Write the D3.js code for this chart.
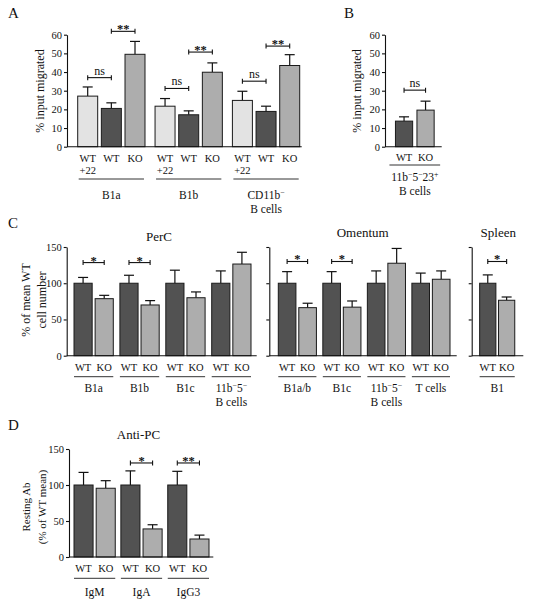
<!DOCTYPE html>
<html>
<head>
<meta charset="utf-8">
<script src="https://cdn.jsdelivr.net/npm/d3@7"></script>
<style>
  html, body { margin: 0; padding: 0; background: #fff; }
  svg { display: block; }
  text { font-family: "Liberation Serif", "Times New Roman", serif; fill: #111; }
</style>
</head>
<body>
<script>
// ---------------- DATA ----------------
// Panel A: % input migrated
const aGroups = ["B1a", "B1b", "CD11b^-|B cells"];
const aSeries = ["WT|+22", "WT", "KO"];
const aValues = [[27.1, 20.5, 49.5], [21.7, 17.1, 39.9], [24.8, 18.9, 43.5]];
const aErrors = [[4.9, 3.0, 6.9], [4.1, 2.1, 5.0], [4.9, 2.8, 5.8]];
const aBrackets = [[0, 0, 1, 37.0, "ns"], [0, 1, 2, 61.8, "**"],
                   [1, 0, 1, 31.2, "ns"], [1, 1, 2, 50.7, "**"],
                   [2, 0, 1, 35.1, "ns"], [2, 1, 2, 53.9, "**"]];
const abTicks = [0, 10, 20, 30, 40, 50, 60];

// Panel B
const bGroups = ["11b^-5^-23^+|B cells"];
const bSeries = ["WT", "KO"];
const bValues = [[13.7, 19.6]];
const bErrors = [[2.3, 4.8]];
const bBrackets = [[0, 0, 1, 30.3, "ns"]];

// Panel C
const cSeries = ["WT", "KO"];
const perCGroups = ["B1a", "B1b", "B1c", "11b^-5^-|B cells"];
const perCValues = [[100, 78.7], [100, 70], [100, 80], [100, 126.5]];
const perCErrors = [[8, 4.6], [11, 6], [18, 8], [17, 16.2]];
const perCBrackets = [[0, 0, 1, 128.5, "*"], [1, 0, 1, 128.5, "*"]];

const omGroups = ["B1a/b", "B1c", "11b^-5^-|B cells", "T cells"];
const omValues = [[100, 66.3], [100, 67], [100, 127.6], [100, 105.5]];
const omErrors = [[16, 6.1], [16, 8.5], [17, 20.4], [14, 11.5]];
const omBrackets = [[0, 0, 1, 130, "*"], [1, 0, 1, 130, "*"]];

const spGroups = ["B1"];
const spValues = [[100, 76.5]];
const spErrors = [[11.5, 4.5]];
const spBrackets = [[0, 0, 1, 130, "*"]];
const cdTicks = [0, 50, 100, 150];

// Panel D: Anti-PC
const dGroups = ["IgM", "IgA", "IgG3"];
const dValues = [[100, 95.5], [100, 39], [100, 25]];
const dErrors = [[17.5, 10.5], [19.6, 5.8], [19, 5.4]];
const dBrackets = [[1, 0, 1, 130.6, "*"], [2, 0, 1, 130.6, "**"]];

// ---------------- STYLE ----------------
const LIGHT = "#e3e3e3", DARK = "#525252", MED = "#adadad";
const FS_TICK = 10.5, FS_CAT = 10.5, FS_GROUP = 11.5;

const svg = d3.select("body").append("svg")
  .attr("width", 536).attr("height", 601)
  .style("background", "#fff");

function richText(textSel, str, fs) {
  const parts = str.split(/(\^.)/);
  let shifted = false;
  parts.forEach(pt => {
    if (!pt) return;
    if (pt.length === 2 && pt[0] === "^") {
      const ch = pt[1] === "-" ? "\u2212" : pt[1];
      textSel.append("tspan").attr("dy", shifted ? 0 : -fs * 0.38)
        .attr("font-size", fs * 0.68).text(ch);
      shifted = true;
    } else {
      const t = textSel.append("tspan").text(pt);
      if (shifted) { t.attr("dy", fs * 0.38); shifted = false; }
    }
  });
}

function drawPanel(p) {
  const g = svg.append("g");
  const y = d3.scaleLinear().domain([0, p.yMax]).range([p.y0, p.yTop]);
  const x0 = d3.scaleBand().domain(d3.range(p.groups.length))
    .range(p.barRange).paddingInner(p.outerPad).paddingOuter(0);
  const x1 = d3.scaleBand().domain(d3.range(p.series.length))
    .range([0, x0.bandwidth()]).paddingInner(p.innerPad).paddingOuter(0);

  // y axis
  const ax = d3.axisLeft(y).tickValues(p.ticks).tickSize(3).tickSizeOuter(0)
    .tickPadding(2).tickFormat(p.tickLabels ? d3.format("d") : () => "");
  const axg = g.append("g").attr("transform", `translate(${p.axisX},0)`).call(ax);
  axg.selectAll("path, line").attr("stroke", "#111").attr("stroke-width", 1.1);
  axg.selectAll("text").attr("font-size", FS_TICK)
    .attr("font-family", "Liberation Serif, serif").attr("fill", "#111");

  // bars
  p.values.forEach((vals, gi) => {
    vals.forEach((v, si) => {
      const bx = x0(gi) + x1(si);
      const bw = x1.bandwidth();
      const cx = bx + bw / 2;
      const e = p.errors[gi][si];
      // error bar (upper only)
      g.append("line").attr("x1", cx).attr("x2", cx)
        .attr("y1", y(v)).attr("y2", y(v + e))
        .attr("stroke", "#111").attr("stroke-width", 1.2);
      g.append("line").attr("x1", cx - 5).attr("x2", cx + 5)
        .attr("y1", y(v + e)).attr("y2", y(v + e))
        .attr("stroke", "#111").attr("stroke-width", 1.2);
      g.append("rect").attr("x", bx).attr("y", y(v))
        .attr("width", bw).attr("height", y(0) - y(v))
        .attr("fill", p.colors[si]).attr("stroke", "#1a1a1a").attr("stroke-width", 1);
      // series labels
      const lines = p.series[si].split("|");
      lines.forEach((ln, li) => {
        g.append("text").attr("x", cx).attr("y", p.catY + li * 12)
          .attr("text-anchor", "middle").attr("font-size", FS_CAT).text(ln);
      });
    });
    // group underline and label
    const gx = x0(gi), gw = x0.bandwidth();
    g.append("line").attr("x1", gx - p.ulPad).attr("x2", gx + gw + p.ulPad)
      .attr("y1", p.ulY).attr("y2", p.ulY).attr("stroke", "#333").attr("stroke-width", 1);
    p.groups[gi].split("|").forEach((ln, li) => {
      const t = g.append("text").attr("x", gx + gw / 2).attr("y", p.glY + li * 14)
        .attr("text-anchor", "middle").attr("font-size", FS_GROUP);
      richText(t, ln, FS_GROUP);
    });
  });

  // x axis line
  g.append("line").attr("x1", p.axisX).attr("x2", p.xEnd)
    .attr("y1", y(0)).attr("y2", y(0)).attr("stroke", "#111").attr("stroke-width", 1.1);

  // significance brackets
  p.brackets.forEach(([gi, sa, sb, v, txt]) => {
    const xa = x0(gi) + x1(sa) + x1.bandwidth() / 2;
    const xb = x0(gi) + x1(sb) + x1.bandwidth() / 2;
    const yy = y(v);
    g.append("line").attr("x1", xa).attr("x2", xb).attr("y1", yy).attr("y2", yy)
      .attr("stroke", "#111").attr("stroke-width", 1.1);
    [xa, xb].forEach(xx => g.append("line").attr("x1", xx).attr("x2", xx)
      .attr("y1", yy - 2.5).attr("y2", yy + 2.5).attr("stroke", "#111").attr("stroke-width", 1.1));
    g.append("text").attr("x", (xa + xb) / 2).attr("y", txt === "ns" ? yy - 3 : yy + 2)
      .attr("text-anchor", "middle").attr("font-size", txt === "ns" ? 12 : 12.5)
      .attr("font-weight", txt === "ns" ? "normal" : "bold").text(txt);
  });

  // y label
  if (p.ylabel) {
    p.ylabel.lines.forEach((ln, li) => {
      g.append("text")
        .attr("transform", `translate(${p.ylabel.x + li * p.ylabel.dx},${p.ylabel.y}) rotate(-90)`)
        .attr("text-anchor", "middle").attr("dominant-baseline", "central")
        .attr("font-size", p.ylabel.fs).text(ln);
    });
  }
  // title
  if (p.title) {
    g.append("text").attr("x", p.title.x).attr("y", p.title.y)
      .attr("text-anchor", "middle").attr("font-size", 13).text(p.title.text);
  }
}

// Panel letters
[["A", 8, 18], ["B", 344, 18], ["C", 8, 228], ["D", 8, 430]].forEach(([t, x, yy]) => {
  svg.append("text").attr("x", x).attr("y", yy).attr("font-size", 15).text(t);
});

// A
drawPanel({
  groups: aGroups, series: aSeries, values: aValues, errors: aErrors, brackets: aBrackets,
  colors: [LIGHT, DARK, MED], yMax: 60, ticks: abTicks, tickLabels: true,
  y0: 146.7, yTop: 34.7, axisX: 67, xEnd: 301.7, barRange: [77.7, 299.7],
  outerPad: 0.13, innerPad: 0.155, catY: 162, ulY: 179, ulPad: -1, glY: 199,
  ylabel: { lines: ["% input migrated"], x: 39.5, dx: 0, y: 91, fs: 12 }
});
// B
drawPanel({
  groups: bGroups, series: bSeries, values: bValues, errors: bErrors, brackets: bBrackets,
  colors: [DARK, MED], yMax: 60, ticks: abTicks, tickLabels: true,
  y0: 146.7, yTop: 34.7, axisX: 385, xEnd: 441.7, barRange: [393.3, 436.3],
  outerPad: 0.1, innerPad: 0.2, catY: 161, ulY: 165, ulPad: 6, glY: 181,
  ylabel: { lines: ["% input migrated"], x: 357, dx: 0, y: 91, fs: 12 }
});
// C - PerC
drawPanel({
  groups: perCGroups, series: cSeries, values: perCValues, errors: perCErrors, brackets: perCBrackets,
  colors: [DARK, MED], yMax: 150, ticks: cdTicks, tickLabels: true,
  y0: 355.7, yTop: 247, axisX: 66.7, xEnd: 256.7, barRange: [74, 251],
  outerPad: 0.144, innerPad: 0.14, catY: 370.5, ulY: 376.7, ulPad: 0, glY: 392,
  ylabel: { lines: ["% of mean WT", "cell number"], x: 25.5, dx: 16.5, y: 300, fs: 12 },
  title: { text: "PerC", x: 159, y: 241 }
});
// C - Omentum
drawPanel({
  groups: omGroups, series: cSeries, values: omValues, errors: omErrors, brackets: omBrackets,
  colors: [DARK, MED], yMax: 150, ticks: cdTicks, tickLabels: false,
  y0: 355.7, yTop: 247, axisX: 269.3, xEnd: 456.7, barRange: [278.3, 450],
  outerPad: 0.144, innerPad: 0.14, catY: 370.5, ulY: 376.7, ulPad: 0, glY: 392,
  title: { text: "Omentum", x: 362.7, y: 236.5 }
});
// C - Spleen
drawPanel({
  groups: spGroups, series: cSeries, values: spValues, errors: spErrors, brackets: spBrackets,
  colors: [DARK, MED], yMax: 150, ticks: cdTicks, tickLabels: false,
  y0: 355.7, yTop: 247, axisX: 471.7, xEnd: 523.3, barRange: [477.7, 516.7],
  outerPad: 0.1, innerPad: 0.14, catY: 370.5, ulY: 376.7, ulPad: 0, glY: 392,
  title: { text: "Spleen", x: 498.3, y: 236.5 }
});
// D
drawPanel({
  groups: dGroups, series: cSeries, values: dValues, errors: dErrors, brackets: dBrackets,
  colors: [DARK, MED], yMax: 150, ticks: cdTicks, tickLabels: true,
  y0: 557, yTop: 449, axisX: 69, xEnd: 213.3, barRange: [74, 209],
  outerPad: 0.12, innerPad: 0.14, catY: 572, ulY: 578.3, ulPad: 0, glY: 595.5,
  ylabel: { lines: ["Resting Ab", "(% of WT mean)"], x: 25.8, dx: 16, y: 507, fs: 11 },
  title: { text: "Anti-PC", x: 138.5, y: 439 }
});
</script>
</body>
</html>
